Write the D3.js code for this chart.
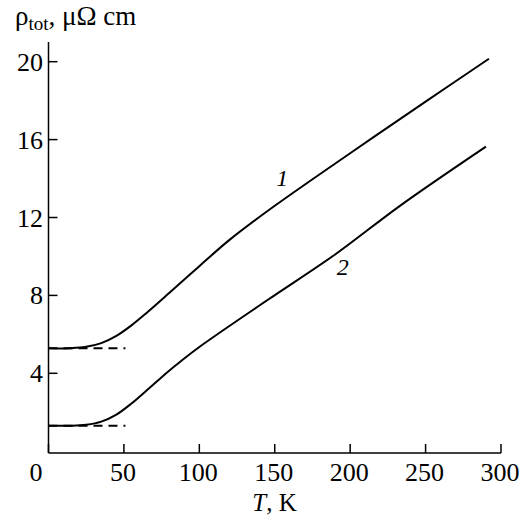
<!DOCTYPE html>
<html>
<head>
<meta charset="utf-8">
<script src="https://cdn.jsdelivr.net/npm/d3@7"></script>
<style>
  body { margin: 0; background: #fff; }
</style>
</head>
<body>
<div id="chart"></div>
<script>
// Data
var xTicks = [0, 50, 100, 150, 200, 250, 300];
var yTicks = [4, 8, 12, 16, 20];

var curve1T   = [0, 15, 25, 35, 45, 55, 65, 80, 100, 120, 150, 200, 250, 292];
var curve1Rho = [5.28, 5.29, 5.36, 5.55, 5.92, 6.46, 7.1, 8.12, 9.5, 10.85, 12.6, 15.3, 17.95, 20.15];

var curve2T   = [0, 15, 25, 35, 45, 55, 65, 75, 85, 100, 145, 190, 233, 290];
var curve2Rho = [1.31, 1.31, 1.36, 1.52, 1.88, 2.45, 3.12, 3.8, 4.45, 5.35, 7.75, 10.1, 12.6, 15.64];

var residual = [5.28, 1.31];   // dashed residual levels
var residualEnd = 51;

var curveLabels = ["1", "2"];
var labelPos = [[155, 13.6], [195, 9.05]];

var width = 524, height = 518;
var font = "'Liberation Serif', 'Times New Roman', Times, serif";

var svg = d3.select("#chart")
    .append("svg")
    .attr("width", width)
    .attr("height", height)
    .style("font-family", font);

// Scales
var x = d3.scaleLinear().domain([0, 300]).range([48.5, 501]);
var y = d3.scaleLinear().domain([0, 20]).range([451.2, 61.7]);
var yAxisTop = 42, xAxisY = 453;

// Axis lines
svg.append("line")
    .attr("x1", x(0)).attr("x2", x(0))
    .attr("y1", xAxisY).attr("y2", yAxisTop)
    .attr("stroke", "#000").attr("stroke-width", 1.5);
svg.append("line")
    .attr("x1", x(0)).attr("x2", x(300))
    .attr("y1", xAxisY).attr("y2", xAxisY)
    .attr("stroke", "#000").attr("stroke-width", 1.5);

// X ticks (inward)
svg.selectAll(".xtick")
    .data(xTicks)
    .enter().append("line")
    .attr("x1", function (d) { return x(d); })
    .attr("x2", function (d) { return x(d); })
    .attr("y1", xAxisY).attr("y2", xAxisY - 9)
    .attr("stroke", "#000").attr("stroke-width", 1.5);

svg.selectAll(".xlab")
    .data(xTicks)
    .enter().append("text")
    .attr("x", function (d) { return d === 0 ? x(d) - 12.5 : x(d) - 1; })
    .attr("y", 481)
    .attr("text-anchor", "middle")
    .style("font-size", "26px")
    .text(function (d) { return d; });

// Y ticks (inward)
svg.selectAll(".ytick")
    .data(yTicks)
    .enter().append("line")
    .attr("x1", x(0)).attr("x2", x(0) + 9)
    .attr("y1", function (d) { return y(d); })
    .attr("y2", function (d) { return y(d); })
    .attr("stroke", "#000").attr("stroke-width", 1.5);

svg.selectAll(".ylab")
    .data(yTicks)
    .enter().append("text")
    .attr("x", 43)
    .attr("y", function (d) { return y(d) + 9; })
    .attr("text-anchor", "end")
    .style("font-size", "26px")
    .text(function (d) { return d; });

// Y title
var yt = svg.append("text")
    .attr("x", 15)
    .attr("y", 25)
    .style("font-size", "27px");
yt.append("tspan").text("ρ");
yt.append("tspan").attr("dy", 5).style("font-size", "19px").text("tot");
yt.append("tspan").attr("dy", -5).text(", μΩ cm");

// X title
var xt = svg.append("text")
    .attr("x", 274.5)
    .attr("y", 511)
    .attr("text-anchor", "middle")
    .style("font-size", "25px");
xt.append("tspan").style("font-style", "italic").text("T");
xt.append("tspan").text(", K");

// Curves
var line = d3.line()
    .x(function (d) { return x(d[0]); })
    .y(function (d) { return y(d[1]); })
    .curve(d3.curveCatmullRom.alpha(0.5));

var curves = [d3.zip(curve1T, curve1Rho), d3.zip(curve2T, curve2Rho)];

svg.selectAll(".curve")
    .data(curves)
    .enter().append("path")
    .attr("d", line)
    .attr("fill", "none")
    .attr("stroke", "#000")
    .attr("stroke-width", 2);

// Dashed residual lines
svg.selectAll(".resid")
    .data(residual)
    .enter().append("line")
    .attr("x1", x(0)).attr("x2", x(residualEnd))
    .attr("y1", function (d) { return y(d); })
    .attr("y2", function (d) { return y(d); })
    .attr("stroke", "#000")
    .attr("stroke-width", 2)
    .attr("stroke-dasharray", "9,6");

// Curve labels
svg.selectAll(".clab")
    .data(curveLabels)
    .enter().append("text")
    .attr("x", function (d, i) { return x(labelPos[i][0]); })
    .attr("y", function (d, i) { return y(labelPos[i][1]); })
    .attr("text-anchor", "middle")
    .style("font-size", "24px")
    .style("font-style", "italic")
    .text(function (d) { return d; });
</script>
</body>
</html>
